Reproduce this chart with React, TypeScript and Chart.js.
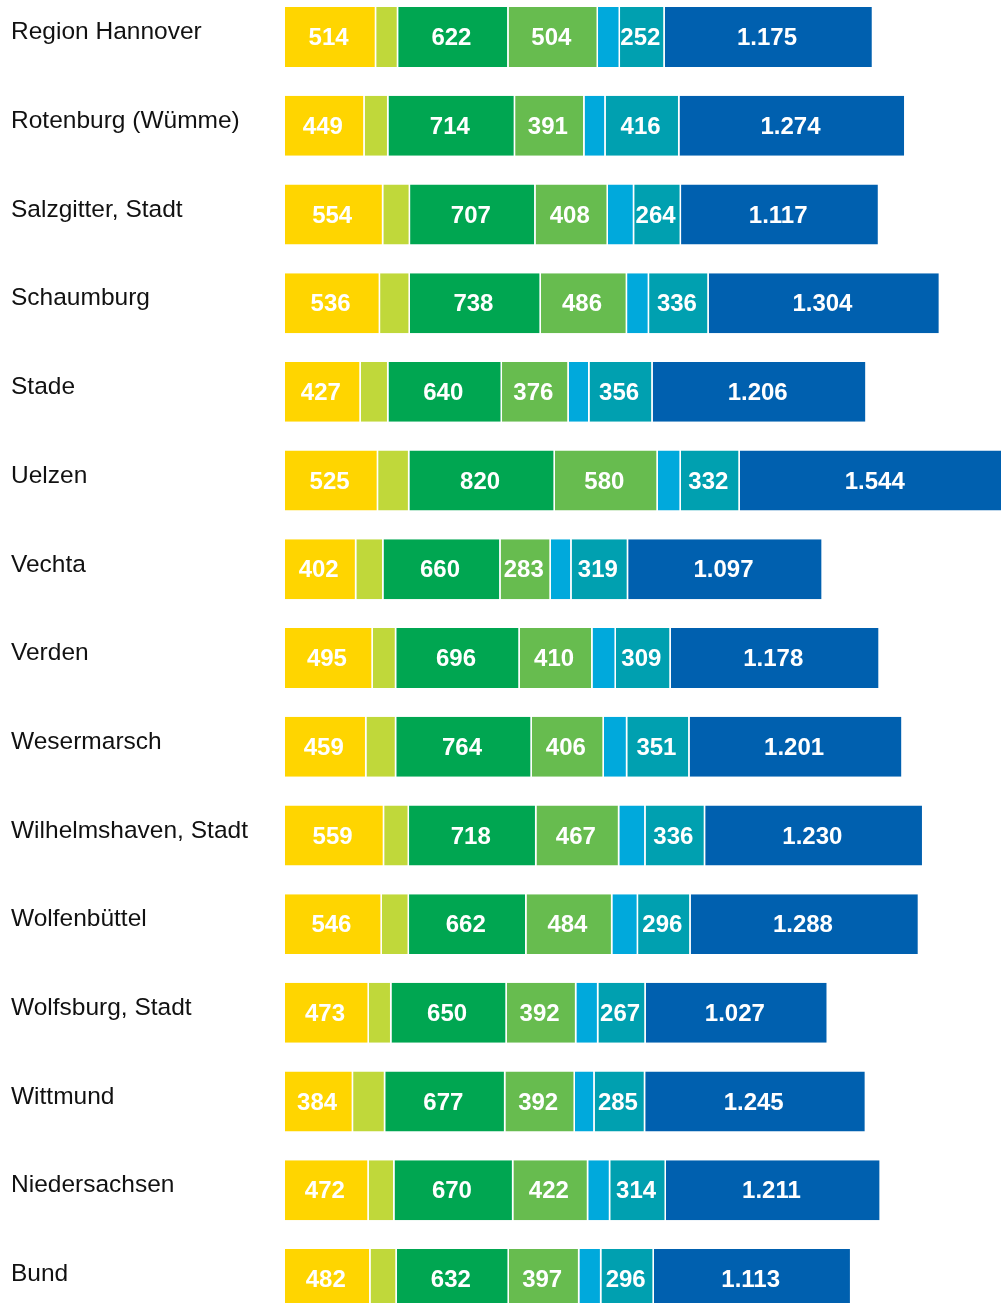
import React, { useEffect, useRef } from "react";
import { Chart, registerables } from "chart.js";

Chart.register(...registerables);

const categories = [
  "Region Hannover",
  "Rotenburg (Wümme)",
  "Salzgitter, Stadt",
  "Schaumburg",
  "Stade",
  "Uelzen",
  "Vechta",
  "Verden",
  "Wesermarsch",
  "Wilhelmshaven, Stadt",
  "Wolfenbüttel",
  "Wolfsburg, Stadt",
  "Wittmund",
  "Niedersachsen",
  "Bund",
];

const seriesYellow = [514, 449, 554, 536, 427, 525, 402, 495, 459, 559, 546, 473, 384, 472, 482];
const seriesLightGreen = [124, 134, 151, 168, 156, 176, 153, 132, 168, 140, 153, 127, 181, 145, 148];
const seriesGreen = [622, 714, 707, 738, 640, 820, 660, 696, 764, 718, 662, 650, 677, 670, 632];
const seriesMidGreen = [504, 391, 408, 486, 376, 580, 283, 410, 406, 467, 484, 392, 392, 422, 397];
const seriesLightBlue = [124, 119, 148, 124, 117, 130, 117, 132, 132, 148, 145, 124, 111, 124, 124];
const seriesTeal = [252, 416, 264, 336, 356, 332, 319, 309, 351, 336, 296, 267, 285, 314, 296];
const seriesBlue = [1175, 1274, 1117, 1304, 1206, 1544, 1097, 1178, 1201, 1230, 1288, 1027, 1245, 1211, 1113];

const xMax = 4035;

function fmt(v: number): string {
  const s = String(Math.round(v));
  return s.replace(/\B(?=(\d{3})+(?!\d))/g, ".");
}

const FONT = "'Liberation Sans', Arial, Helvetica, sans-serif";

const valueLabels = {
  id: "valueLabels",
  afterDatasetsDraw(chart: any) {
    const ctx = chart.ctx;
    ctx.save();
    ctx.font = `bold 24px ${FONT}`;
    ctx.fillStyle = "#ffffff";
    ctx.textAlign = "center";
    ctx.textBaseline = "middle";
    chart.data.datasets.forEach((ds: any, di: number) => {
      if (!ds.showLabel) return;
      const meta = chart.getDatasetMeta(di);
      meta.data.forEach((el: any, i: number) => {
        const v = ds.data[i];
        const cx = (el.x + el.base) / 2 - 2;
        ctx.fillText(fmt(v), cx, el.y + 1.5);
      });
    });
    ctx.restore();
  },
};

export default function App() {
  const ref = useRef<HTMLCanvasElement | null>(null);

  useEffect(() => {
    if (!ref.current) return;
    const mk = (label: string, data: number[], color: string, showLabel: boolean) => ({
      label,
      data,
      backgroundColor: color,
      borderColor: "#ffffff",
      borderWidth: { top: 0, bottom: 0, left: 0, right: 1.5 },
      borderSkipped: "start",
      showLabel,
    });
    const chart = new Chart(ref.current, {
      type: "bar",
      data: {
        labels: categories,
        datasets: [
          mk("A", seriesYellow, "#FFD500", true),
          mk("B", seriesLightGreen, "#C0D83A", false),
          mk("C", seriesGreen, "#00A651", true),
          mk("D", seriesMidGreen, "#67BC4F", true),
          mk("E", seriesLightBlue, "#00A9DC", false),
          mk("F", seriesTeal, "#00A0B0", true),
          mk("G", seriesBlue, "#0060AF", true),
        ] as any,
      },
      options: {
        indexAxis: "y",
        animation: false,
        responsive: true,
        maintainAspectRatio: false,
        layout: { padding: { left: 11, right: 0, top: 0, bottom: 0 } },
        datasets: {
          bar: { barPercentage: 0.676, categoryPercentage: 1 },
        },
        plugins: {
          legend: { display: false },
          tooltip: { enabled: false },
        },
        scales: {
          x: {
            stacked: true,
            display: false,
            min: 0,
            max: xMax,
          },
          y: {
            stacked: true,
            grid: { display: false },
            border: { display: false },
            ticks: {
              color: "#111111",
              font: { size: 24.5, family: FONT },
              crossAlign: "far",
              labelOffset: -4.5,
              padding: 0,
            },
            afterFit(scale: any) {
              scale.width = 274;
            },
          },
        },
      } as any,
      plugins: [valueLabels],
    });
    return () => chart.destroy();
  }, []);

  return (
    <div
      style={{
        position: "fixed",
        left: 0,
        top: 0,
        width: 1001,
        height: 1303,
        overflow: "hidden",
        background: "#ffffff",
      }}
    >
      <div style={{ position: "absolute", left: 0, top: -22, width: 1001, height: 1360 }}>
        <canvas ref={ref} />
      </div>
    </div>
  );
}
